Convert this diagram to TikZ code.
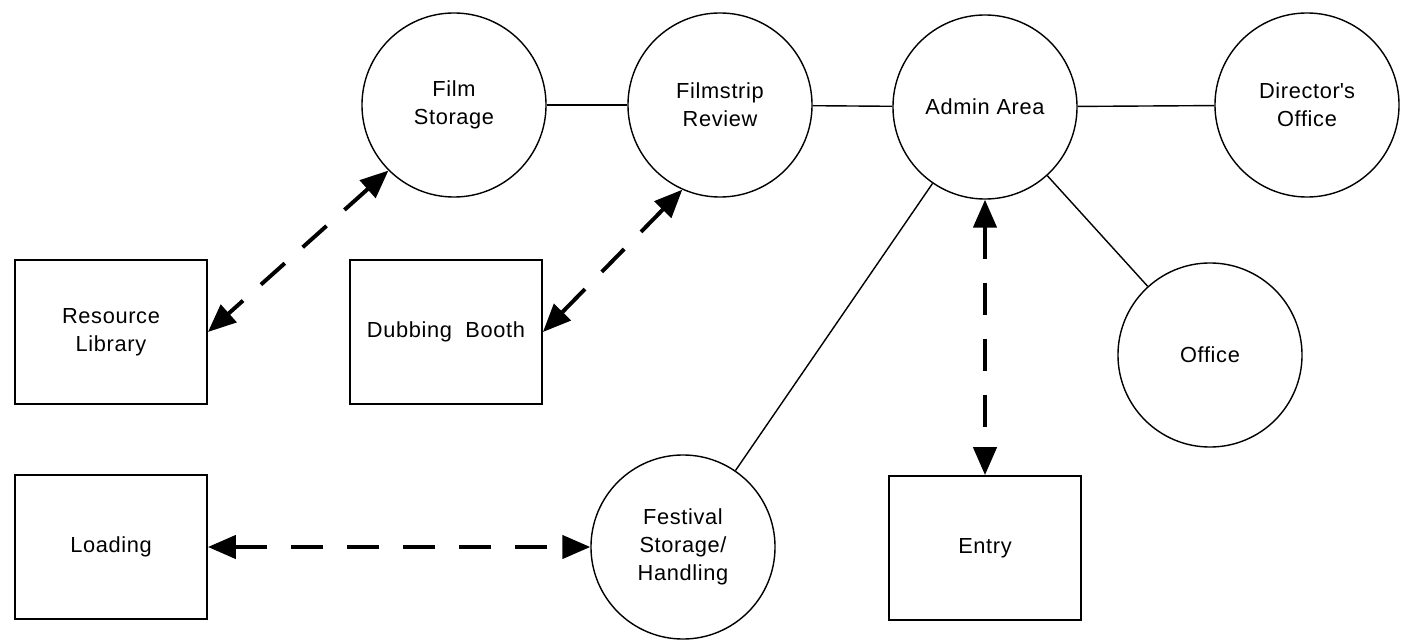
\documentclass[tikz,border=0pt]{standalone}
\usepackage{fontspec}
\setmainfont{Liberation Sans}[LetterSpace=3]
\usepackage{tikz}
\usetikzlibrary{arrows.meta}
\usetikzlibrary{calc}

\begin{document}
\begin{tikzpicture}[x=0.025cm, y=-0.025cm,
    font=\fontsize{15.5}{19.9}\selectfont,
    area/.style={circle, draw, line width=1pt, minimum size=4.6cm,
      inner sep=0pt, align=center},
    room/.style={rectangle, draw, line width=1.3pt, minimum width=4.8cm,
      minimum height=3.6cm, inner sep=0pt, align=center},
    link/.style={line width=1pt},
    dasharrow/.style={line width=2.8pt, dash pattern=on 0.8cm off 0.6cm,
      {Triangle[length=0.7cm, width=0.58cm]}-{Triangle[length=0.7cm, width=0.58cm]}}]

    \useasboundingbox (0, 0) rectangle (1403, 643);

    % circles
    \node [area] (film) at (454, 105) {Film\\Storage};
    \node [area] (review) at (720, 105) {Filmstrip\\Review};
    \node [area] (admin) at (985, 107) {Admin Area};
    \node [area] (director) at (1307, 105) {Director\textquotesingle s\\Office};
    \node [area] (office) at (1210, 355) {Office};
    \node [area] (festival) at (683, 547) {Festival\\Storage/\\Handling};

    % boxes
    \node [room] (resource) at (111, 332) {Resource\\Library};
    \node [room] (dubbing) at (446, 332) {Dubbing\ \ Booth};
    \node [room] (loading) at (111, 547) {Loading};
    \node [room] (entry) at (985, 548) {Entry};

    % plain links
    \foreach \a/\b in {film/review, review/admin, admin/director,
      admin/office, admin/festival} {
      \draw [link] (\a) -- (\b);
    }

    % dashed two-way arrows
    \draw [dasharrow] (film.225) -- (resource.east);
    \draw [dasharrow] (review.246) -- (dubbing.east);
    \draw [dasharrow] (admin) -- (entry);
    \draw [dasharrow] (loading) -- (festival);

  \end{tikzpicture}
\end{document}
